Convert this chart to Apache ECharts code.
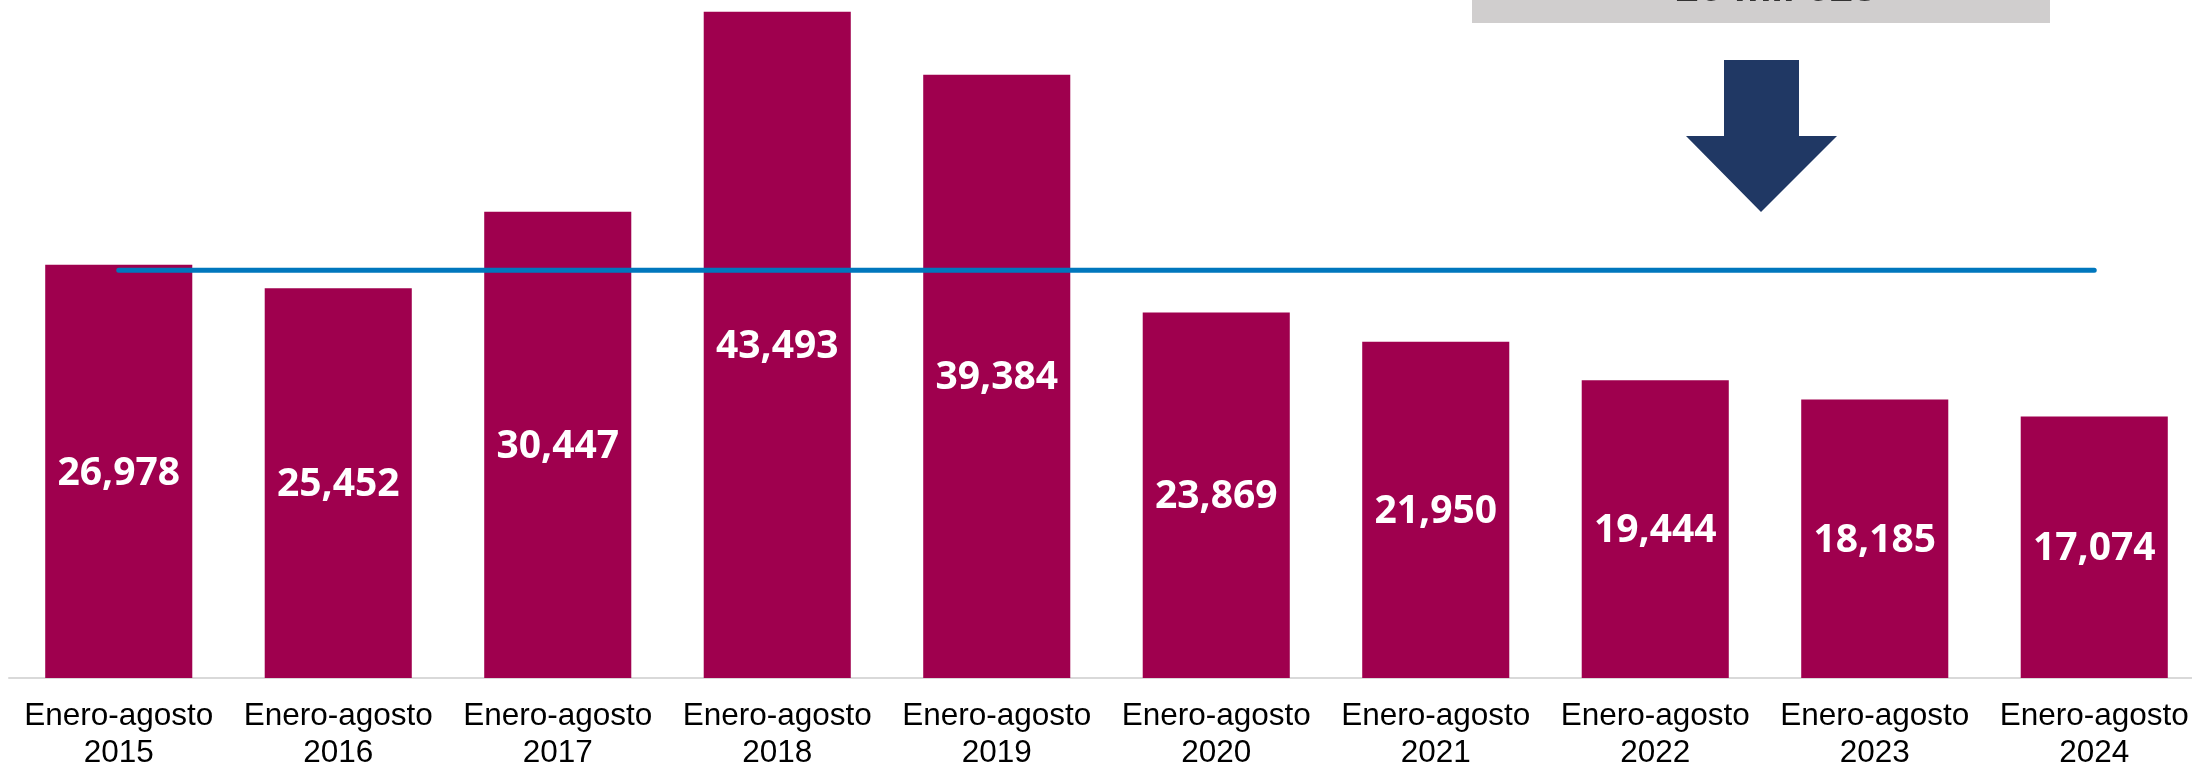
<!DOCTYPE html>
<html>
<head>
<meta charset="utf-8">
<script src="https://cdn.jsdelivr.net/npm/echarts@6/dist/echarts.min.js"></script>
<style>
  html, body { margin: 0; padding: 0; background: #fff; overflow: hidden; }
  #chart { width: 2204px; height: 772px; }
</style>
</head>
<body>
<div id="chart"></div>
<script>
// datos
var years = ['2015', '2016', '2017', '2018', '2019', '2020', '2021', '2022', '2023', '2024'];
var casos = [26978, 25452, 30447, 43493, 39384, 23869, 21950, 19444, 18185, 17074];
// linea de promedio (26 mil 628)
var promedio = [26628, 26628, 26628, 26628, 26628, 26628, 26628, 26628, 26628, 26628];
var promedioTexto = '26 mil 628';

var myChart = echarts.init(document.getElementById('chart'));

var option = {
  backgroundColor: '#ffffff',
  animation: false,
  // el contenedor es un poco mas ancho que la ventana: la ultima barra queda casi en el borde
  grid: {
    left: 9,
    right: 0,
    top: 0,
    bottom: 89
  },
  xAxis: {
    type: 'category',
    data: years.map(function (y) { return 'Enero-agosto\n' + y; }),
    axisTick: { show: false },
    axisLine: {
      lineStyle: { color: '#D9D9D9', width: 2 }
    },
    axisLabel: {
      interval: 0,
      color: '#000000',
      fontFamily: 'Liberation Sans',
      fontSize: 31.5,
      lineHeight: 37,
      margin: 20
    }
  },
  yAxis: {
    type: 'value',
    min: 0,
    max: 44265,
    show: false,
    splitLine: { show: false }
  },
  series: [
    {
      name: 'Casos',
      type: 'bar',
      data: casos,
      barCategoryGap: '33%',
      itemStyle: { color: '#9F004E' },
      label: {
        show: true,
        position: 'inside',
        offset: [0, 2],
        color: '#ffffff',
        fontFamily: 'Open Sans',
        fontWeight: 'bold',
        fontSize: 39,
        formatter: function (p) {
          return p.value.toLocaleString('en-US');
        }
      },
      z: 2
    },
    {
      name: 'Promedio',
      type: 'line',
      data: promedio,
      symbol: 'none',
      lineStyle: { color: '#0077BD', width: 5, cap: 'round' },
      z: 3
    }
  ],
  graphic: [
    {
      type: 'rect',
      shape: { x: 1472, y: 0, width: 578, height: 23 },
      style: { fill: '#D0CECE' },
      z: 10
    },
    {
      type: 'text',
      x: 1776,
      y: -11,
      style: {
        text: promedioTexto,
        fill: '#333333',
        font: 'bold 42px "Liberation Sans"',
        textAlign: 'center',
        textVerticalAlign: 'middle'
      },
      z: 11
    },
    {
      type: 'polygon',
      shape: {
        points: [[1724, 60], [1799, 60], [1799, 136], [1837, 136], [1761, 212], [1686, 136], [1724, 136]]
      },
      style: { fill: '#203864' },
      z: 10
    }
  ]
};

option && myChart.setOption(option);
</script>
</body>
</html>
